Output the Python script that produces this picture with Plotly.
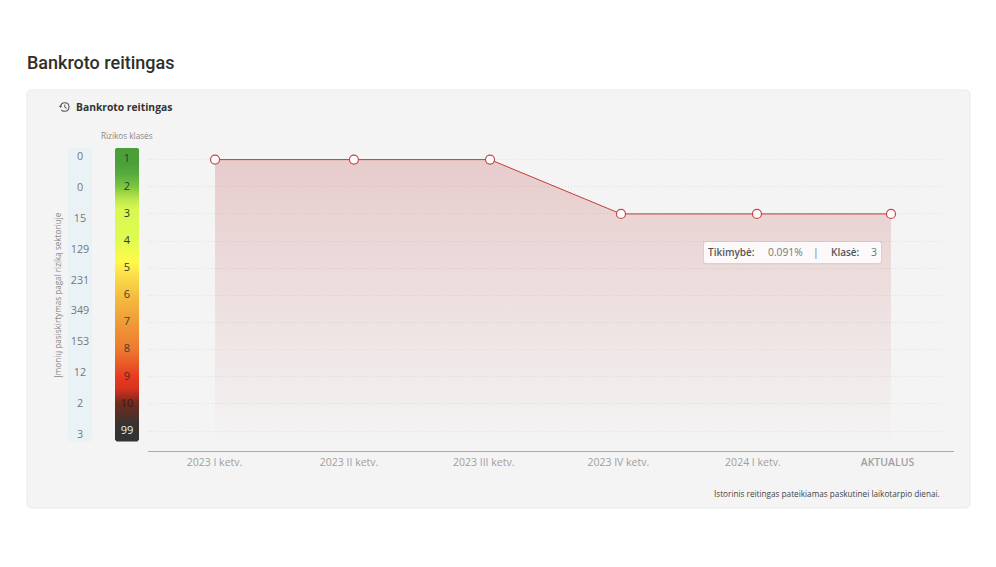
import plotly.graph_objects as go

W, H = 996, 567

# Data
periods = ["2023 I ketv.", "2023 II ketv.", "2023 III ketv.", "2023 IV ketv.", "2024 I ketv.", "AKTUALUS"]
period_pos = [0, 1, 2, 3, 4, 5]
point_pos = [0.004, 1.036, 2.047, 3.02, 4.03, 5.026]
risk_class = [1, 1, 1, 3, 3, 3]
class_labels = ["1", "2", "3", "4", "5", "6", "7", "8", "9", "10", "99"]
class_pos = [1, 2, 3, 4, 5, 6, 7, 8, 9, 10, 11]
company_counts = ["0", "0", "15", "129", "231", "349", "153", "12", "2", "3"]
count_pos = [1, 2, 3, 4, 5, 6, 7, 8, 9, 10]
area_floor = 11.55
ladder_stops = [
    [0.0, "#4a9e38"], [0.058, "#4ba03a"], [0.09, "#58ac3c"], [0.133, "#7cc640"], [0.177, "#c0e84a"],
    [0.21, "#d8f850"], [0.316, "#e0fb50"], [0.388, "#fff94a"], [0.432, "#fbe048"], [0.5, "#f5c040"],
    [0.595, "#f09a38"], [0.687, "#ec7a30"], [0.779, "#e63c20"], [0.82, "#d8321e"], [0.871, "#702a1e"],
    [0.942, "#383230"], [1.0, "#333333"],
]

FONT = "Open Sans"


def px(x):
    return x / W


def py(y):
    return 1 - y / H


def rrect(x0, y0, x1, y1, r):
    X0, X1, Y0, Y1 = px(x0), px(x1), py(y0), py(y1)
    rx, ry = r / W, r / H
    return (f"M {X0+rx},{Y0} L {X1-rx},{Y0} Q {X1},{Y0} {X1},{Y0-ry} L {X1},{Y1+ry} "
            f"Q {X1},{Y1} {X1-rx},{Y1} L {X0+rx},{Y1} Q {X0},{Y1} {X0},{Y1+ry} L {X0},{Y0-ry} Q {X0},{Y0} {X0+rx},{Y0} Z")


def paper_shape(path, fill, line="rgba(0,0,0,0)", width=0, layer="below"):
    return dict(type="path", xref="paper", yref="paper", path=path, fillcolor=fill,
                line=dict(color=line, width=width), layer=layer)


def note(x, y, text, size=10, color="#777777", anchor="center", weight=None, family=FONT, angle=0):
    f = dict(family=family, size=size, color=color)
    if weight:
        f["weight"] = weight
    return dict(xref="paper", yref="paper", x=px(x), y=py(y), text=text, showarrow=False,
                xanchor=anchor, yanchor="middle", font=f, textangle=angle)


fig = go.Figure()

# Main area
fig.add_trace(go.Scatter(x=point_pos + point_pos[::-1], y=risk_class + [area_floor] * 6, mode="none", fill="toself",
                         fillgradient=dict(type="vertical",
                                           colorscale=[[0, "rgba(185,60,60,0)"], [1, "rgba(185,60,60,0.22)"]]),
                         hoverinfo="skip", showlegend=False))
fig.add_trace(go.Scatter(x=point_pos, y=risk_class, mode="lines+markers",
                         line=dict(color="#c03c3c", width=1),
                         marker=dict(size=9, color="#ffffff", line=dict(color="#c9464a", width=1.2)),
                         showlegend=False))

# Ladder (gradient runs bottom-up on screen, so the stops are reversed)
dx, dy = 0.07, 0.06
fig.add_trace(go.Scatter(x=[dx, 1 - dx, 1, 1, 1 - dx, dx, 0, 0, dx],
                         y=[0.56, 0.56, 0.56 + dy, 11.38 - dy, 11.38, 11.38, 11.38 - dy, 0.56 + dy, 0.56],
                         mode="none", fill="toself",
                         fillgradient=dict(type="vertical", colorscale=[[round(1 - p, 3), c] for p, c in ladder_stops[::-1]]),
                         xaxis="x2", yaxis="y", hoverinfo="skip", showlegend=False))
label_colors = ["#2f3a28"] * 5 + ["#45412c"] * 3 + ["#5a2418", "#3c1a14", "#eeeeee"]
fig.add_trace(go.Scatter(x=[0.5] * len(class_pos), y=class_pos, mode="text", text=class_labels,
                         textfont=dict(family=FONT, size=11, color=label_colors),
                         xaxis="x2", yaxis="y", hoverinfo="skip", showlegend=False))
# Counts
fig.add_trace(go.Scatter(x=[0.5] * len(count_pos), y=count_pos, mode="text", text=company_counts,
                         textfont=dict(family=FONT, size=10.8, color="#777777"),
                         xaxis="x3", yaxis="y3", hoverinfo="skip", showlegend=False))

shapes = [
    paper_shape(rrect(27, 90, 970, 508, 5), "#f4f4f4", "#e9e9e9", 1),
    paper_shape(rrect(68, 148, 92, 442, 3), "#e9f3f6"),
    dict(type="line", xref="paper", yref="paper", x0=px(148), x1=px(954), y0=py(451.5), y1=py(451.5),
         line=dict(color="#aaaaaa", width=1.2), layer="above"),
    paper_shape(rrect(703, 241, 882, 264.5, 2), "rgba(0,0,0,0.05)", layer="above"),
    paper_shape(rrect(704, 242, 881, 263, 2), "#fbf9f9", layer="above"),
]
# History icon
cx, cy, r = 64.8, 107, 4.2
shapes.append(dict(type="path", xref="paper", yref="paper",
                   path=(f"M {px(cx-r)},{py(cy)} Q {px(cx-r)},{py(cy-r)} {px(cx)},{py(cy-r)} "
                         f"Q {px(cx+r)},{py(cy-r)} {px(cx+r)},{py(cy)} Q {px(cx+r)},{py(cy+r)} {px(cx)},{py(cy+r)} "
                         f"Q {px(cx-r+1)},{py(cy+r)} {px(cx-r+1)},{py(cy+r-1.5)}"),
                   line=dict(color="#555555", width=1.1), layer="above"))
shapes.append(dict(type="path", xref="paper", yref="paper",
                   path=f"M {px(cx)},{py(cy-2.4)} L {px(cx)},{py(cy+0.3)} L {px(cx+2)},{py(cy+1.4)}",
                   line=dict(color="#555555", width=1), layer="above"))
shapes.append(dict(type="path", xref="paper", yref="paper",
                   path=f"M {px(cx-6)},{py(cy-1.2)} L {px(cx-2.6)},{py(cy-1.2)} L {px(cx-4.3)},{py(cy+1)} Z",
                   fillcolor="#555555", line=dict(width=0), layer="above"))

annotations = [
    note(25, 62.5, "Bankroto reitingas", size=18, color="#2f2f2a", anchor="left", family="Roboto", weight=500),
    note(73.5, 107, "Bankroto reitingas", size=10.3, color="#333333", anchor="left", weight=700),
    note(127, 135.5, "Rizikos klasės", size=8.2, color="#888888"),
    note(56.5, 295, "Įmonių pasiskirtymas pagal riziką sektoriuje", size=8.15, color="#888888", angle=-90),
    note(942, 493, "Istorinis reitingas pateikiamas paskutinei laikotarpio dienai.", size=8.2, color="#444444", anchor="right"),
    note(706, 252, "Tikimybė:", size=10, color="#555555", anchor="left", weight=600),
    note(766, 252, "0.091%", size=10.3, color="#777777", anchor="left"),
    note(816, 252, "|", size=10.5, color="#777777"),
    note(829, 252, "Klasė:", size=10, color="#555555", anchor="left", weight=600),
    note(874, 252, "3", size=10.5, color="#777777", anchor="center"),
]

# y scale: class 1 at 159.6 px, 27.15 px per class; y domain 148..451 px
y_top = 1 + (148 - 159.6) / 27.15
y_bot = 1 + (451 - 159.6) / 27.15
# x scale: 0 at 214.5 px, 134.6 px per period, domain 148..943
x_lo = (148 - 214.5) / 134.6
x_hi = (943 - 214.5) / 134.6

fig.update_layout(
    width=W, height=H, margin=dict(l=0, r=0, t=0, b=0), autosize=False,
    paper_bgcolor="#ffffff", plot_bgcolor="rgba(0,0,0,0)", showlegend=False,
    xaxis=dict(domain=[px(148), px(943)], range=[x_lo, x_hi], tickvals=period_pos,
               ticktext=periods[:-1] + ["<span style='font-weight:600'>AKTUALUS</span>"],
               showgrid=False, zeroline=False, showline=False, ticks="", ticklabelstandoff=3,
               tickfont=dict(family=FONT, size=10.5, color="#a0a0a0"), anchor="y"),
    yaxis=dict(domain=[py(451), py(148)], range=[y_bot, y_top], tickvals=class_pos, showticklabels=False,
               showgrid=True, griddash="1px,2px", gridcolor="#e0e0e0", gridwidth=1, zeroline=False, showline=False, ticks="",
               anchor="x"),
    xaxis2=dict(domain=[px(115), px(139)], range=[0, 1], visible=False, anchor="y"),
    xaxis3=dict(domain=[px(68), px(92)], range=[0, 1], visible=False, anchor="y3"),
    yaxis3=dict(domain=[py(451), py(148)], range=[1 + (451 - 157.5) / 30.85, 1 + (148 - 157.5) / 30.85], visible=False, anchor="x3"),
    shapes=shapes, annotations=annotations,
)

fig.write_html("out.html", post_script="document.body.style.margin='0';", config={"displayModeBar": False})
